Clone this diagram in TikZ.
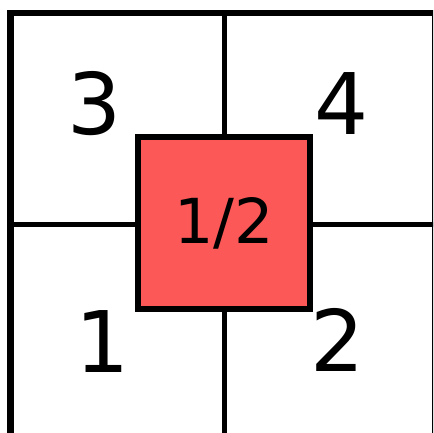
\documentclass[tikz,border=0pt]{standalone}
\usepackage{fontspec}
\setsansfont{DejaVu Sans}
\usepackage{xcolor}
\usetikzlibrary{positioning}
\definecolor{halfred}{RGB}{252,88,88}
\tikzset{
  gridline/.style={line width=5.5pt, line cap=rect},
  cellnum/.style={font=\sffamily\fontsize{85}{85}\selectfont, inner sep=0pt},
  halfbox/.style={draw, line width=6pt, fill=halfred, minimum size=172pt,
                  inner sep=0pt, font=\sffamily\fontsize{62}{62}\selectfont},
}
\begin{document}
\begin{tikzpicture}[x=1pt, y=-1pt]
  \useasboundingbox[fill=white] (0,0) rectangle (433,433);
  \clip (0,0) rectangle (433,433);
  % outer frame, cut by the page on the right and bottom
  \draw[gridline, line width=6.5pt] (10.5,450) -- (10.5,13) -- (435,13) -- (435,450);
  % cross lines
  \draw[gridline] (224.5,13) -- (224.5,450);
  \draw[gridline] (10.5,224.5) -- (435,224.5);
  % centre square
  \node[halfbox] (half) at (224,223) {1/2};
  % cell numbers
  \node[cellnum] (three) at (95,104) {3};
  \node[cellnum] (four) at (342,104) {4};
  \node[cellnum] (one) at (103,342) {1};
  \node[cellnum] (two) at (338,340) {2};
\end{tikzpicture}
\end{document}
